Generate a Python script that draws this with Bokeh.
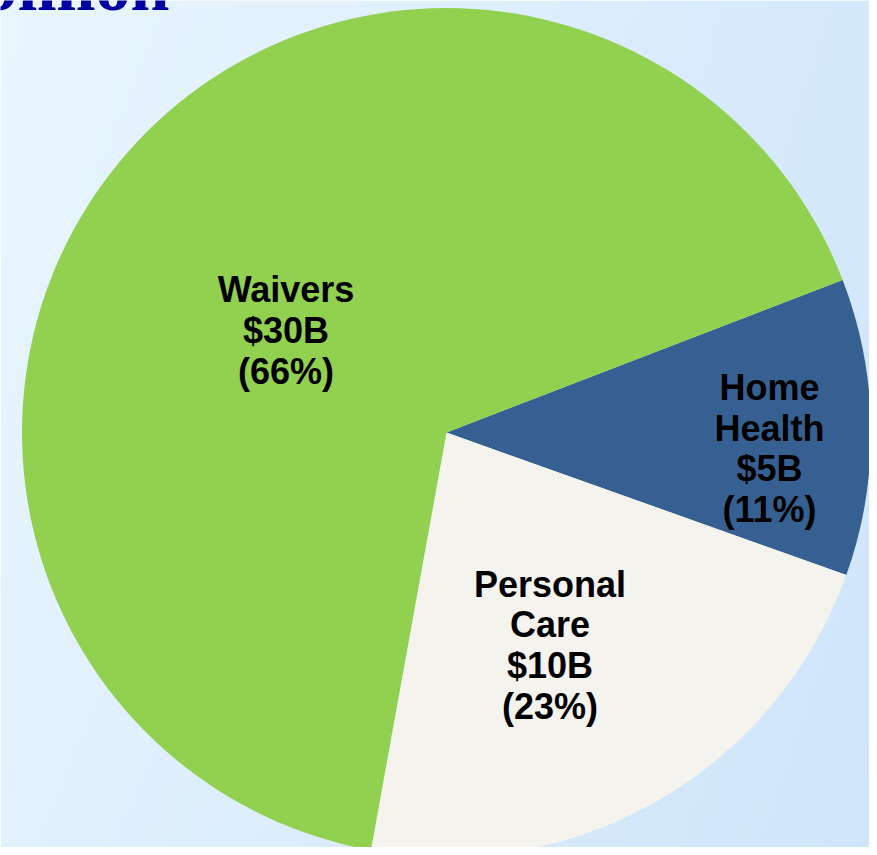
import numpy as np
from bokeh.plotting import figure
from bokeh.models import Range1d, ColumnDataSource
from bokeh.core.properties import value
from bokeh.embed import file_html
from bokeh.resources import INLINE

# ---- data ----
categories = ["Home Health", "Personal Care", "Waivers"]
name_lines = [["Home", "Health"], ["Personal", "Care"], ["Waivers"]]
amount_labels = ["$5B", "$10B", "$30B"]
pct_labels = ["(11%)", "(23%)", "(66%)"]
shares = [11.3, 22.4, 66.3]          # share of the pie
colors = ["#366092", "#f4f3ed", "#92d050"]
title_text = "billion"

# ---- layout (reference pixel coordinates; data y = SH - screen y) ----
W, H = 869, 847
SH = 847
cx, cy, R = 446, SH - 432, 424.5
top_boundary_deg = 21.06
label_x = [769, 549.5, 285.5]
label_first_baseline = [400, 596.5, 302.3]
line_step = 40.7
label_fs = 36
label_shift = 0.36 * label_fs     # compensate renderer baseline offset
title_fs = 70
title_shift = 0.38 * title_fs

p = figure(width=W, height=H, x_range=Range1d(0, W), y_range=Range1d(0, H),
           output_backend="svg", toolbar_location=None, min_border=0,
           x_axis_location=None, y_axis_location=None)
p.grid.visible = False
p.outline_line_color = None

# background gradient
ny, nx = 160, 160
u = np.linspace(0, 1, nx)[None, :]
v = np.linspace(0, 1, ny)[:, None]  # 0 = bottom
TL = np.array([234, 246, 254.0]); TR = np.array([213, 233, 252.0])
BL = np.array([226, 241, 253.0]); BR = np.array([207, 229, 250.0])
img = np.empty((ny, nx), dtype=np.uint32)
view = img.view(dtype=np.uint8).reshape((ny, nx, 4))
for k in range(3):
    c = TL[k]*(1-u)*v + TR[k]*u*v + BL[k]*(1-u)*(1-v) + BR[k]*u*(1-v)
    view[..., k] = np.clip(np.round(c), 0, 255).astype(np.uint8)
view[..., 3] = 255
p.image_rgba(image=[img], x=0, y=0, dw=W, dh=H)

# wedges (clockwise from the top boundary)
cum = np.concatenate([[0], np.cumsum(shares)]) / np.sum(shares) * 2 * np.pi
top = np.deg2rad(top_boundary_deg)
starts = [top - cum[i+1] for i in range(len(shares))]
ends = [top - cum[i] for i in range(len(shares))]
src = ColumnDataSource(dict(start=starts, end=ends, color=colors, cat=categories))
p.wedge(x=cx, y=cy, radius=R, start_angle="start", end_angle="end",
        fill_color="color", line_color=None, source=src)

# labels
tx, ty, tt = [], [], []
for i in range(len(categories)):
    lines = name_lines[i] + [amount_labels[i], pct_labels[i]]
    for k, s in enumerate(lines):
        tx.append(label_x[i])
        ty.append(SH - (label_first_baseline[i] + k * line_step) + label_shift)
        tt.append(s)
p.text(x=tx, y=ty, text=tt, text_align="center", text_baseline="alphabetic",
       text_font=value("Liberation Sans"), text_font_style="bold",
       text_font_size=f"{label_fs}px", text_color="#000000")

# partially visible title
p.text(x=[169], y=[SH - 13 + title_shift], text=[title_text], text_align="right",
       text_baseline="alphabetic", text_font=value("Liberation Serif"),
       text_font_style="bold", text_font_size=f"{title_fs}px", text_color="#0000a0")

open("out.html", "w").write(file_html(p, INLINE))
